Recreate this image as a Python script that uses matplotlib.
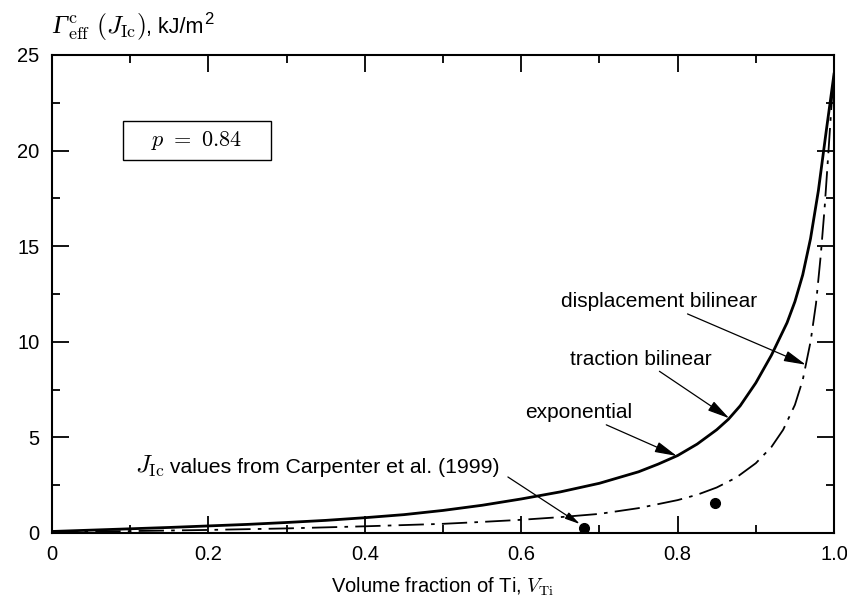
import matplotlib
matplotlib.use("Agg")
import matplotlib.pyplot as plt
from matplotlib.patches import Rectangle
from matplotlib.ticker import MultipleLocator

plt.rcParams['font.family'] = ['Liberation Sans', 'DejaVu Sans']
plt.rcParams['mathtext.fontset'] = 'cm'

# solid curve (exponential / traction bilinear, nearly coincident)
v_solid = [0.0, 0.05, 0.1, 0.15, 0.2, 0.25, 0.3, 0.35, 0.4, 0.45, 0.5, 0.55, 0.6,
           0.65, 0.7, 0.75, 0.775, 0.8, 0.825, 0.85, 0.865, 0.88, 0.9, 0.92, 0.94,
           0.95, 0.96, 0.97, 0.98, 0.99, 1.0]
g_solid = [0.08, 0.15, 0.22, 0.29, 0.37, 0.45, 0.55, 0.66, 0.8, 0.96, 1.18, 1.45, 1.78,
           2.15, 2.6, 3.2, 3.6, 4.05, 4.65, 5.4, 5.95, 6.65, 7.85, 9.3, 11.0,
           12.1, 13.5, 15.4, 17.9, 21.0, 24.0]

# dash-dot curve (displacement bilinear)
v_disp = [0.0, 0.1, 0.2, 0.3, 0.4, 0.5, 0.55, 0.6, 0.65, 0.7, 0.75, 0.8, 0.825,
          0.85, 0.875, 0.9, 0.92, 0.935, 0.95, 0.96, 0.97, 0.977, 0.983, 0.988,
          0.993, 0.997, 1.0]
g_disp = [0.05, 0.1, 0.16, 0.24, 0.35, 0.48, 0.58, 0.69, 0.83, 1.0, 1.3, 1.72, 2.0,
          2.38, 2.9, 3.65, 4.5, 5.4, 6.7, 8.0, 10.0, 12.0, 14.5, 17.0,
          20.0, 22.5, 24.0]

# J_Ic measurements, Carpenter et al. (1999)
v_exp = [0.68, 0.848]
j_exp = [0.25, 1.55]

fig = plt.figure(figsize=(8.47, 6.05), dpi=100)
ax = fig.add_axes([52/847, 72/605, 782/847, 478/605])

ax.plot(v_disp, g_disp, color='k', lw=1.3, dashes=(14, 4, 2, 4))
ax.plot(v_solid, g_solid, color='k', lw=2.0)
ax.plot(v_exp, j_exp, 'o', color='k', ms=7)

ax.set_xlim(0, 1)
ax.set_ylim(0, 25)
ax.set_xticks([0, 0.2, 0.4, 0.6, 0.8, 1.0])
ax.set_xticklabels(['0', '0.2', '0.4', '0.6', '0.8', '1.0'])
ax.xaxis.set_minor_locator(MultipleLocator(0.1))
ax.yaxis.set_major_locator(MultipleLocator(5))
ax.yaxis.set_minor_locator(MultipleLocator(2.5))
ax.tick_params(which='both', direction='in', top=True, right=True,
               width=1.3, labelsize=14.5, pad=9)
ax.tick_params(which='major', length=12)
ax.tick_params(which='minor', length=6)
for s in ax.spines.values():
    s.set_linewidth(1.5)

ax.set_xlabel(r'Volume fraction of Ti, $V_{\rm Ti}$', fontsize=14.5, labelpad=8)


def put_pieces(x, y, pieces):
    # lay text pieces left to right on one baseline (figure coords)
    r = fig.canvas.get_renderer()
    for s, kw in pieces:
        t = fig.text(x, y, s, ha='left', va='baseline', **kw)
        x = t.get_window_extent(r).x1 / fig.bbox.width
    return x


x_end = put_pieces(52/847, 1 - 33/605, [
    ('Γ', dict(fontsize=19, family='Liberation Serif', style='italic')),
    (r'$^{\rm c}_{\rm eff}\ (J_{\rm Ic})$', dict(fontsize=18.5)),
    (', kJ/m', dict(fontsize=15.5)),
])
fig.text(x_end + 1/847, 1 - 24/605, '2', fontsize=12, ha='left', va='baseline')

ax.add_patch(Rectangle((0.0908, 0.780), 0.189, 0.0816, transform=ax.transAxes,
                       fill=False, lw=1.0, ec='k'))
ax.text(0.0908 + 0.189/2, 0.780 + 0.0816/2, r'$p\ =\ 0.84$',
        transform=ax.transAxes, ha='center', va='center', fontsize=16)

arrow = dict(arrowstyle='-|>,head_width=0.22,head_length=0.9', lw=0.9,
             color='k', shrinkA=0, shrinkB=0)
ax.annotate('displacement bilinear', xy=(0.964, 8.8), xytext=(0.9015, 12.1),
            ha='right', va='center', fontsize=15, arrowprops=arrow)
ax.annotate('traction bilinear', xy=(0.866, 6.0), xytext=(0.844, 9.1),
            ha='right', va='center', fontsize=15, arrowprops=arrow)
ax.annotate('exponential', xy=(0.799, 4.03), xytext=(0.7417, 6.3),
            ha='right', va='center', fontsize=15, arrowprops=arrow)
ax.annotate('', xy=(0.675, 0.47), xytext=(0.583, 2.93), arrowprops=arrow)
put_pieces(135/847, 1 - 473/605, [
    (r'$J_{\rm Ic}$', dict(fontsize=18)),
    (' values from Carpenter et al. (1999)', dict(fontsize=15.3)),
])

fig.savefig('out.png', dpi=100)
